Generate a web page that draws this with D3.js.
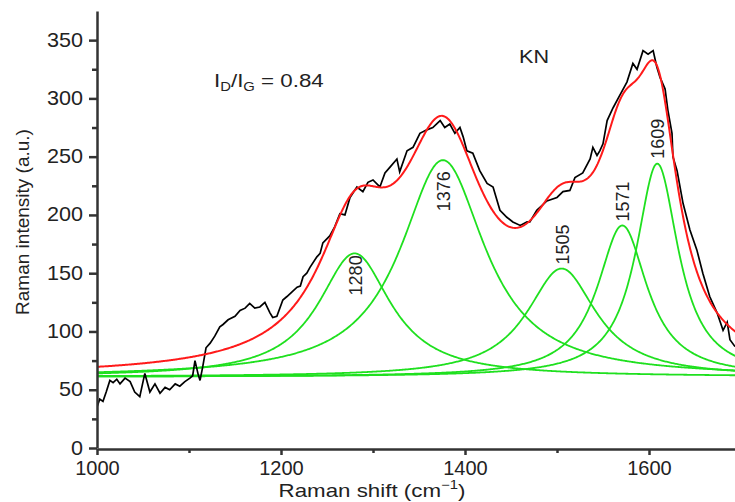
<!DOCTYPE html>
<html>
<head>
<meta charset="utf-8">
<script src="https://cdn.jsdelivr.net/npm/d3@7"></script>
<style>
  body { margin: 0; background: #fff; }
  svg { display: block; font-family: "Liberation Sans", Arial, sans-serif; }
</style>
</head>
<body>
<div id="chart"></div>
<script>
const shifts = [1000, 1003, 1006.5, 1010, 1014, 1017.5, 1021.5, 1025, 1030.5, 1036, 1041, 1046.5, 1052, 1057.5, 1063, 1068.5, 1074, 1079, 1085, 1090, 1095.5, 1101, 1104, 1106.5, 1110, 1112, 1115, 1118.5, 1123, 1128, 1133.5, 1137, 1142.5, 1150, 1155.5, 1161, 1166, 1171.5, 1177, 1182.5, 1188, 1191, 1195.5, 1202, 1206.5, 1212, 1217.5, 1221, 1224, 1228, 1231.5, 1239, 1242.5, 1245.5, 1253, 1258.5, 1264, 1269.5, 1275, 1282.5, 1289, 1294.5, 1300, 1307.5, 1313, 1318.5, 1326, 1329, 1337, 1343.5, 1351, 1358.5, 1365, 1373, 1378, 1383.5, 1389, 1394.5, 1398, 1402, 1408.5, 1416, 1424, 1430.5, 1438, 1445.5, 1452, 1460, 1467.5, 1470.5, 1478, 1489, 1500, 1506.5, 1514, 1519.5, 1528, 1536, 1539, 1543.5, 1546.5, 1550, 1554.5, 1561, 1568.5, 1576, 1582.5, 1587, 1593.5, 1599, 1604.5, 1608.5, 1612, 1617.5, 1620.5, 1625, 1626, 1630.5, 1637, 1644.5, 1652, 1658.5, 1666, 1674, 1680.5, 1685, 1688, 1693.5];
const intensity = [35, 42, 40, 48, 58, 56, 59, 55, 60, 57, 48, 44, 64, 48, 55, 47, 52, 50, 55, 53, 57, 60, 62, 75, 63, 58, 70, 86, 90, 96, 104, 106, 110, 113, 118, 120, 124, 120, 121, 125, 116, 112, 113, 127, 130, 134, 138, 139, 147, 150, 155, 164, 167, 176, 182, 190, 201, 200, 215, 224, 220, 228, 230, 224, 236, 241, 248, 237, 255, 258, 270, 273, 275, 281, 275, 278, 270, 275, 267, 255, 253, 238, 227, 224, 204, 198, 194, 191, 194, 194, 204, 212, 215, 220, 221, 232, 236, 248, 258, 251, 255, 261, 281, 292, 303, 314, 330, 325, 341, 338, 341, 327, 318, 308, 290, 270, 250, 238, 210, 187, 170, 150, 130, 116, 101, 108, 93, 87];

// fitted Lorentzian components
const peakCenters = [1280, 1376, 1505, 1571, 1609];
const peakHeights = [106, 186, 93, 130, 183];
const peakHalfWidths = [48, 56, 46, 33, 28];
const baseline = 61;

// axis ticks
const xTicks = [1000, 1200, 1400, 1600];
const yTicks = [0, 50, 100, 150, 200, 250, 300, 350];

const width = 735;
const height = 502;

const svg = d3.select("#chart")
  .append("svg")
  .attr("width", width)
  .attr("height", height);

const x = d3.scaleLinear().domain([1000, 1700]).range([97, 741]);
const y = d3.scaleLinear().domain([0, 375]).range([448, 11]);

svg.append("clipPath").attr("id", "plot")
  .append("rect").attr("x", 97).attr("y", 0).attr("width", 640).attr("height", 449);

// model curves sampled on a grid
const grid = d3.range(1000, 1701, 1);
const lorentz = (w, i) => peakHeights[i] * peakHalfWidths[i] ** 2 /
  ((w - peakCenters[i]) ** 2 + peakHalfWidths[i] ** 2);

const line = d3.line().x(d => x(d[0])).y(d => y(d[1]));

const plot = svg.append("g").attr("clip-path", "url(#plot)");

// green components
peakCenters.forEach((c, i) => {
  plot.append("path")
    .datum(grid.map(w => [w, baseline + lorentz(w, i)]))
    .attr("fill", "none")
    .attr("stroke", "#1fe01f")
    .attr("stroke-width", 1.8)
    .attr("d", line);
});

// measured data
plot.append("path")
  .datum(shifts.map((s, i) => [s, intensity[i]]))
  .attr("fill", "none")
  .attr("stroke", "#000")
  .attr("stroke-width", 1.7)
  .attr("d", line);

// cumulative fit
plot.append("path")
  .datum(grid.map(w => [w, baseline + d3.sum(peakCenters, (c, i) => lorentz(w, i))]))
  .attr("fill", "none")
  .attr("stroke", "#ff1a1a")
  .attr("stroke-width", 2)
  .attr("d", line);

// axes
svg.append("g")
  .attr("transform", "translate(97,0)")
  .call(d3.axisLeft(y).tickValues(d3.range(25, 375, 50)).tickSize(5).tickFormat(""))
  .call(g => g.select(".domain").remove());
svg.append("g")
  .attr("transform", "translate(97,0)")
  .call(d3.axisLeft(y).tickValues(yTicks).tickSize(8).tickPadding(5).tickSizeOuter(0))
  .attr("font-size", "20px")
  .attr("font-family", "Liberation Sans, Arial, sans-serif")
  .call(g => g.selectAll(".tick text").attr("transform", "scale(1.08,1)").attr("dy", "0.3em"));

svg.append("g")
  .attr("transform", "translate(0,449)")
  .call(d3.axisBottom(x).tickValues([1100, 1300, 1500, 1700]).tickSize(4).tickFormat(""))
  .call(g => g.select(".domain").remove());
svg.append("g")
  .attr("transform", "translate(0,449)")
  .call(d3.axisBottom(x).tickValues(xTicks).tickFormat(d3.format("d")).tickSize(6).tickPadding(6).tickSizeOuter(0))
  .attr("font-size", "20px")
  .attr("font-family", "Liberation Sans, Arial, sans-serif");

svg.selectAll(".domain, .tick line").attr("stroke", "#333").attr("stroke-width", 2.5);
svg.selectAll(".tick text").attr("fill", "#222");

// axis titles
svg.append("text")
  .attr("transform", "translate(29,222) rotate(-90)")
  .attr("text-anchor", "middle")
  .attr("font-size", "19px")
  .attr("fill", "#222")
  .text("Raman intensity (a.u.)");

const xt = svg.append("text")
  .attr("transform", "translate(372,497) scale(1.24,1)")
  .attr("text-anchor", "middle")
  .attr("font-size", "18px")
  .attr("fill", "#222");
xt.append("tspan").text("Raman shift (cm");
xt.append("tspan").attr("font-size", "12px").attr("dy", -8).text("\u22121");
xt.append("tspan").attr("dy", 8).text(")");

// annotations
const ratio = svg.append("text")
  .attr("transform", "translate(214,87) scale(1.24,1)")
  .attr("font-size", "18px")
  .attr("fill", "#222");
ratio.append("tspan").text("I");
ratio.append("tspan").attr("font-size", "12px").attr("dy", 4).text("D");
ratio.append("tspan").attr("dy", -4).text("/I");
ratio.append("tspan").attr("font-size", "12px").attr("dy", 4).text("G");
ratio.append("tspan").attr("dy", -4).text(" = 0.84");

svg.append("text")
  .attr("transform", "translate(519,63) scale(1.2,1)")
  .attr("font-size", "18px")
  .attr("fill", "#222")
  .text("KN");

// peak labels, offset from each peak top
const labelShift = [22, 31, -24, -24, -25];
svg.selectAll(".peak-label")
  .data(peakCenters)
  .enter()
  .append("text")
  .attr("class", "peak-label")
  .attr("transform", (d, i) => `translate(${x(d) + 1},${y(baseline + peakHeights[i]) + labelShift[i]}) rotate(-90)`)
  .attr("text-anchor", "middle")
  .attr("dominant-baseline", "central")
  .attr("font-size", "18px")
  .attr("fill", "#222")
  .text(d => d);
</script>
</body>
</html>
